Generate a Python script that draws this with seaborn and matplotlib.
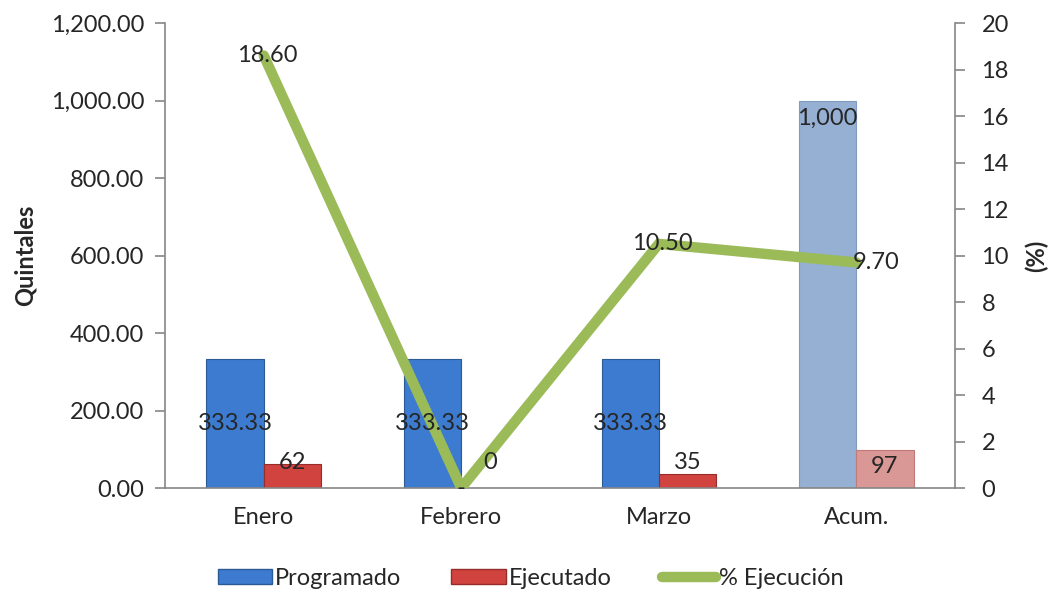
import matplotlib
matplotlib.use("Agg")
import matplotlib.pyplot as plt
import matplotlib.ticker as mticker
from matplotlib.patches import Patch
from matplotlib.lines import Line2D
import seaborn as sns
import pandas as pd

# data
meses = ["Enero", "Febrero", "Marzo", "Acum."]
programado = [333.33, 333.33, 333.33, 1000]
ejecutado = [62, 0, 35, 97]
pct_ejecucion = [18.60, 0, 10.50, 9.70]

sns.set_style("white")
plt.rcParams["font.family"] = ["Lato", "DejaVu Sans"]

df = pd.DataFrame({
    "mes": meses * 2,
    "valor": programado + ejecutado,
    "serie": ["Programado"] * 4 + ["Ejecutado"] * 4,
})

c_prog = "#3c7bcf"
c_ejec = "#d0433f"
c_prog_acum = "#95b0d2"
c_ejec_acum = "#d99896"
c_line = "#9bbb59"
gris = "#868686"
fs = 17

fig = plt.figure(figsize=(10.51, 5.96), dpi=100)
ax = fig.add_axes([0.157, 0.1812, 0.7517, 0.7802])

sns.barplot(data=df, x="mes", y="valor", hue="serie", order=meses,
            hue_order=["Programado", "Ejecutado"],
            palette=[c_prog, c_ejec], width=0.58, saturation=1,
            legend=False, ax=ax)

# recolour the accumulated bars and add edges
for i, p in enumerate(ax.patches[:8]):
    serie = i // 4
    mes = i % 4
    if mes == 3:
        p.set_facecolor(c_prog_acum if serie == 0 else c_ejec_acum)
        p.set_edgecolor("#7f9cc0" if serie == 0 else "#c07a78")
    else:
        p.set_edgecolor("#2c5a94" if serie == 0 else "#962d2a")
    p.set_linewidth(0.8)

ax.set_xlim(-0.5, 3.5)
ax.set_ylim(0, 1200)
ax.yaxis.set_major_locator(mticker.MultipleLocator(200))
ax.yaxis.set_major_formatter(mticker.FuncFormatter(lambda v, _: f"{v:,.2f}"))
ax.set_xlabel("")
ax.set_ylabel("Quintales", fontsize=fs, fontweight="bold", labelpad=10)

# tick marks between categories
ax.set_xticks([-0.5, 0.5, 1.5, 2.5, 3.5], minor=True)
ax.tick_params(axis="x", which="major", length=0, labelsize=fs, pad=14)
ax.tick_params(axis="x", which="minor", length=7, color=gris, width=1.2)
ax.tick_params(axis="y", length=7, color=gris, width=1.2, labelsize=fs, pad=8, left=True)

for s in ["top", "right"]:
    ax.spines[s].set_visible(False)
for s in ["left", "bottom"]:
    ax.spines[s].set_color(gris)
    ax.spines[s].set_linewidth(1.2)

# % line on the secondary axis
ax2 = ax.twinx()
sns.lineplot(x=list(range(len(meses))), y=pct_ejecucion, color=c_line,
             linewidth=7.5, sort=False, ax=ax2)
for ln in ax2.lines:
    ln.set_solid_joinstyle("miter")
ax2.set_ylim(0, 20)
ax2.yaxis.set_major_locator(mticker.MultipleLocator(2))
ax2.set_ylabel("(%)", fontsize=fs, fontweight="bold", labelpad=11)
ax2.tick_params(axis="y", length=7, color=gris, width=1.2, labelsize=fs, pad=12, right=True)
for s in ["top", "left", "bottom"]:
    ax2.spines[s].set_visible(False)
ax2.spines["right"].set_color(gris)
ax2.spines["right"].set_linewidth(1.2)
ax2.set_xlim(-0.5, 3.5)

# bar labels (drawn on ax2 so they sit above the line)
for i in range(4):
    v = programado[i]
    if v >= 1000:
        ax2.text(i - 0.145, v - 45, f"{v:,.0f}", ha="center", va="center",
                 fontsize=fs, transform=ax.transData, zorder=5)
    else:
        ax2.text(i - 0.145, v / 2, f"{v:,.2f}", ha="center", va="center",
                 fontsize=fs, transform=ax.transData, zorder=5)
    e = ejecutado[i]
    ax2.text(i + 0.145, 66 if e < 90 else 55, f"{e:,.0f}", ha="center", va="center",
             fontsize=fs, transform=ax.transData, zorder=5)

for i, v in enumerate(pct_ejecucion):
    if v == 0:
        ax2.text(i, v, "-", ha="center", va="center", fontsize=fs, zorder=5)
    elif i == 3:
        ax2.text(i + 0.1, v, f"{v:.2f}", ha="center", va="center", fontsize=fs, zorder=5)
    else:
        ax2.text(i + 0.02, v, f"{v:.2f}", ha="center", va="center", fontsize=fs, zorder=5)

handles = [
    Patch(facecolor=c_prog, edgecolor="#2c5a94"),
    Patch(facecolor=c_ejec, edgecolor="#962d2a"),
    Line2D([0], [0], color=c_line, linewidth=7.5, solid_capstyle="round"),
]
fig.legend(handles, ["Programado", "Ejecutado", "% Ejecución"],
           loc="center", bbox_to_anchor=(0.505, 0.03), ncol=3, frameon=False,
           fontsize=fs, handlelength=2.3, handleheight=0.6, handletextpad=0.15,
           columnspacing=2.1)

fig.savefig("out.png", dpi=100)
